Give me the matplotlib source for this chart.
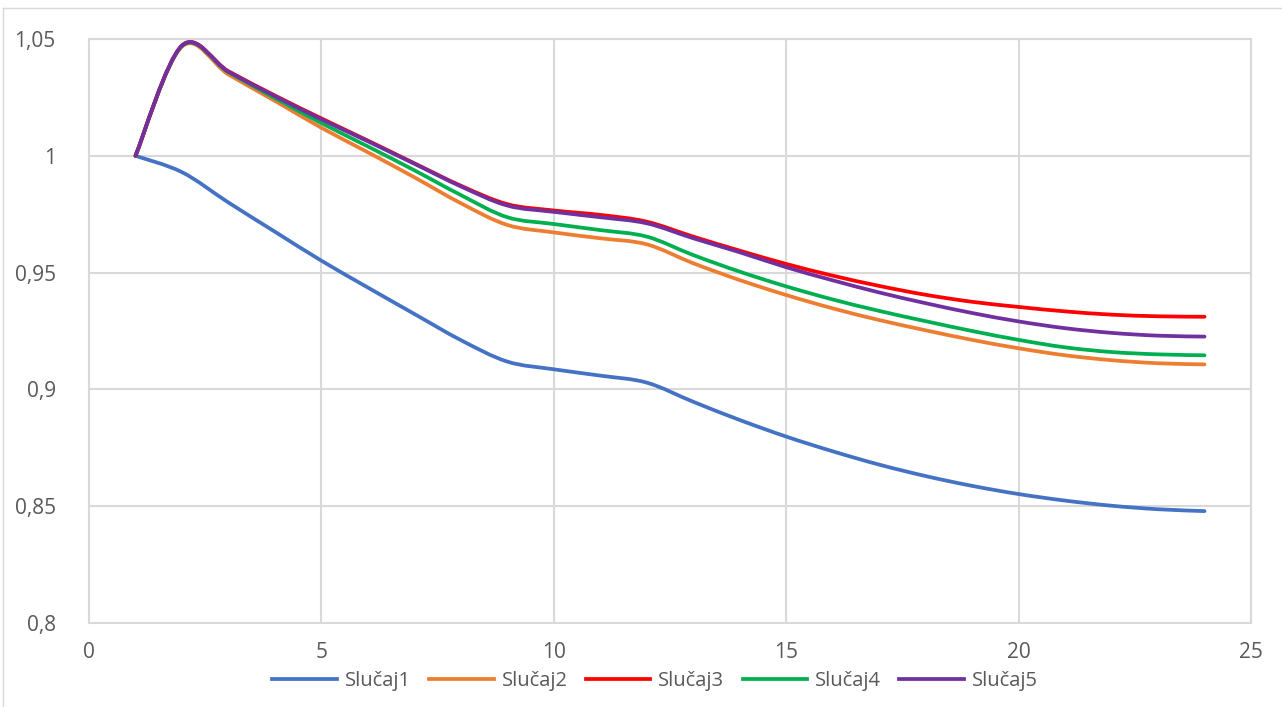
"""Recreate line chart of Slučaj1..Slučaj5 (Excel-style smoothed lines).
"""
import matplotlib
matplotlib.use('Agg')
import matplotlib.pyplot as plt
from matplotlib.path import Path
from matplotlib.patches import PathPatch
from matplotlib.lines import Line2D
from matplotlib.ticker import FuncFormatter

x = list(range(1, 25))

slucaj1 = [1.0, 0.9930, 0.9800, 0.9675, 0.9551, 0.9436, 0.9323, 0.9211,
           0.9119, 0.9086, 0.9059, 0.9029, 0.8947, 0.8869, 0.8798, 0.8735,
           0.8678, 0.8629, 0.8587, 0.8552, 0.8524, 0.8502, 0.8487, 0.8479]
slucaj2 = [1.0, 1.0468, 1.0348, 1.0235, 1.0120, 1.0015, 0.9908, 0.9797,
           0.9704, 0.9672, 0.9647, 0.9621, 0.9540, 0.9468, 0.9404, 0.9347,
           0.9297, 0.9253, 0.9212, 0.9176, 0.9146, 0.9125, 0.9112, 0.9107]
slucaj3 = [1.0, 1.0472, 1.0362, 1.0258, 1.0160, 1.0065, 0.9968, 0.9872,
           0.9793, 0.9766, 0.9747, 0.9718, 0.9654, 0.9594, 0.9537, 0.9487,
           0.9443, 0.9405, 0.9375, 0.9353, 0.9334, 0.9320, 0.9313, 0.9311]
slucaj4 = [1.0, 1.0470, 1.0358, 1.0247, 1.0140, 1.0040, 0.9938, 0.9832,
           0.9737, 0.9708, 0.9682, 0.9654, 0.9575, 0.9504, 0.9441, 0.9385,
           0.9336, 0.9292, 0.9250, 0.9212, 0.9180, 0.9160, 0.9150, 0.9146]
slucaj5 = [1.0, 1.0472, 1.0360, 1.0255, 1.0156, 1.0062, 0.9966, 0.9869,
           0.9787, 0.9760, 0.9737, 0.9711, 0.9647, 0.9587, 0.9523, 0.9467,
           0.9415, 0.9369, 0.9327, 0.9291, 0.9262, 0.9242, 0.9230, 0.9226]

names = ['Slučaj1', 'Slučaj2', 'Slučaj3', 'Slučaj4', 'Slučaj5']
series = [slucaj1, slucaj2, slucaj3, slucaj4, slucaj5]
colors = ['#4472C4', '#ED7D31', '#FF0000', '#00B050', '#7030A0']
# draw order: later on top (purple over red as in the picture)
order = [0, 1, 3, 2, 4]


def smooth_path(xs, ys):
    """Excel-like smoothed line as cubic Bezier path through the points."""
    n = len(xs)
    verts = [(xs[0], ys[0])]
    codes = [Path.MOVETO]
    for i in range(n - 1):
        x0, y0 = (xs[i - 1], ys[i - 1]) if i > 0 else (xs[i], ys[i])
        x1, y1 = xs[i], ys[i]
        x2, y2 = xs[i + 1], ys[i + 1]
        x3, y3 = (xs[i + 2], ys[i + 2]) if i + 2 < n else (x2, y2)
        c1 = (x1 + (x2 - x0) / 6, y1 + (y2 - y0) / 6)
        c2 = (x2 - (x3 - x1) / 6, y2 - (y3 - y1) / 6)
        verts += [c1, c2, (x2, y2)]
        codes += [Path.CURVE4] * 3
    return Path(verts, codes)


plt.rcParams['font.family'] = ['Open Sans', 'DejaVu Sans']

fig = plt.figure(figsize=(12.82, 7.07), dpi=100)
ax = fig.add_axes([89 / 1282, 1 - 623 / 707, (1251 - 89) / 1282, (623 - 39) / 707])

grid_col = '#D9D9D9'

# thin chart-area border (left and top edges visible in the picture)
fig.add_artist(Line2D([3 / 1282, 3 / 1282], [0, 1 - 8 / 707],
                      transform=fig.transFigure, color=grid_col, lw=1))
fig.add_artist(Line2D([3 / 1282, 1], [1 - 8 / 707, 1 - 8 / 707],
                      transform=fig.transFigure, color=grid_col, lw=1))

for i in order:
    patch = PathPatch(smooth_path(x, series[i]), fill=False,
                      edgecolor=colors[i], lw=2.7, capstyle='round',
                      joinstyle='round', zorder=3)
    ax.add_patch(patch)

ax.set_xlim(0, 25)
ax.set_ylim(0.8, 1.05)
ax.set_xticks([0, 5, 10, 15, 20, 25])
ax.set_yticks([0.8, 0.85, 0.9, 0.95, 1.0, 1.05])
ax.yaxis.set_major_formatter(FuncFormatter(
    lambda v, p: ('%g' % round(v, 2)).replace('.', ',')))

ax.grid(True, color=grid_col, lw=1.5, zorder=0)
for s in ax.spines.values():
    s.set_color(grid_col)
    s.set_linewidth(1.5)
ax.tick_params(length=0, labelsize=15, colors='#595959')
ax.tick_params(axis='y', pad=24)
ax.tick_params(axis='x', pad=14)

handles = [Line2D([], [], color=c, lw=2.7) for c in colors]
ax.legend(handles, names, loc='center', bbox_to_anchor=(655 / 1282, 1 - 681 / 707),
          bbox_transform=fig.transFigure, ncol=5, frameon=False,
          fontsize=14.5, labelcolor='#595959', handlelength=3.2,
          handletextpad=0.4, columnspacing=0.9, borderpad=0.1)

fig.savefig('out.png', dpi=100)
